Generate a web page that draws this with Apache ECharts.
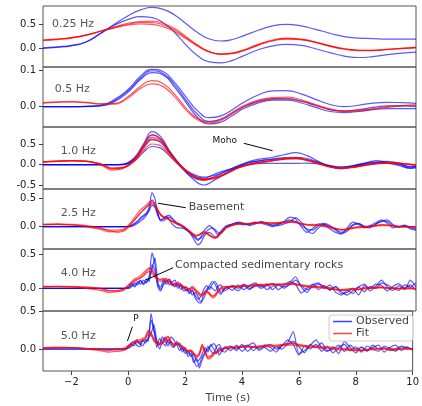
<!DOCTYPE html>
<html><head><meta charset="utf-8">
<script src="https://cdn.jsdelivr.net/npm/echarts@6/dist/echarts.min.js"></script>
<style>html,body{margin:0;padding:0;background:#fff}#c{width:422px;height:406px}</style>
</head><body><div id="c"></div>
<script>
// ---------- DATA ----------
const PANEL_LABELS = ['0.25 Hz', '0.5 Hz', '1.0 Hz', '2.5 Hz', '4.0 Hz', '5.0 Hz'];
const X_TICKS = [-2, 0, 2, 4, 6, 8, 10];
const Y_TICKS = [[0, 0.5], [0, 0.1], [-0.5, 0, 0.5], [0, 0.5], [0, 0.5], [0, 0.5]];

const T_LOW = [-3,-2.5,-2,-1.5,-1,-0.5,0,0.4,0.8,1.2,1.6,2,2.4,2.8,3.2,3.6,4,4.5,5,5.5,6,6.5,7,7.5,8,8.5,9,9.5,10];
const T_MID = [-3,-2.5,-2,-1.5,-1,-0.6,-0.2,0.2,0.5,0.8,1.1,1.4,1.8,2.2,2.6,3,3.4,3.8,4.2,4.6,5,5.4,5.8,6.2,6.6,7,7.4,7.8,8.2,8.6,9,9.4,9.8,10];
const T_HIGH = [-3,-2.5,-2,-1.5,-1,-0.7,-0.4,
  -0.2,-0.1,0,0.1,0.2,0.3,0.4,0.5,0.6,0.7,0.8,0.9,1,1.1,1.2,1.3,1.4,1.5,1.6,1.7,1.8,1.9,2,2.1,2.2,2.3,2.4,2.5,2.6,2.7,2.8,2.9,3,3.1,3.2,3.3,3.4,
  3.6,3.8,4,4.2,4.4,4.6,4.8,5,5.2,5.4,5.6,5.8,6,6.2,6.4,6.6,6.8,7,7.2,7.4,7.6,7.8,8,8.2,8.4,8.6,8.8,9,9.2,9.4,9.6,9.8,10];

// 0.25 Hz
const P1_OBS_A = [0.01,0.03,0.06,0.13,0.30,0.50,0.68,0.79,0.84,0.80,0.68,0.50,0.32,0.19,0.15,0.18,0.26,0.37,0.46,0.49,0.46,0.39,0.31,0.24,0.21,0.20,0.19,0.19,0.19];
const P1_OBS_B = [0.0,0.02,0.05,0.13,0.31,0.48,0.60,0.65,0.63,0.52,0.32,0.06,-0.16,-0.28,-0.30,-0.25,-0.15,-0.03,0.05,0.08,0.06,-0.01,-0.09,-0.16,-0.19,-0.17,-0.13,-0.10,-0.08];
const P1_FIT_A = [0.17,0.19,0.22,0.27,0.35,0.44,0.52,0.55,0.56,0.51,0.40,0.23,0.06,-0.07,-0.12,-0.10,-0.03,0.08,0.17,0.21,0.19,0.13,0.05,-0.01,-0.04,-0.04,-0.02,0.0,0.02];
const P1_FIT_B = [0.16,0.18,0.21,0.27,0.35,0.42,0.48,0.50,0.49,0.44,0.34,0.19,0.04,-0.08,-0.12,-0.11,-0.05,0.06,0.15,0.19,0.18,0.12,0.04,-0.02,-0.05,-0.05,-0.03,-0.01,0.01];
const P1_FIT_C = [0.17,0.19,0.22,0.27,0.35,0.43,0.50,0.53,0.53,0.48,0.37,0.21,0.05,-0.07,-0.12,-0.10,-0.04,0.07,0.16,0.20,0.18,0.12,0.05,-0.01,-0.04,-0.04,-0.02,0.0,0.02];

// 0.5 Hz
const P2_OBS_A = [0,0,0,0.001,0.004,0.02,0.05,0.083,0.102,0.095,0.065,0.025,-0.012,-0.03,-0.025,-0.008,0.012,0.032,0.043,0.044,0.035,0.02,0.006,0.0,0.004,0.01,0.012,0.011,0.009];
const P2_OBS_B = [0,0,0,0.001,0.003,0.017,0.046,0.078,0.098,0.09,0.058,0.016,-0.022,-0.04,-0.035,-0.018,0.0,0.015,0.022,0.022,0.015,0.004,-0.008,-0.012,-0.008,-0.002,0.002,0.002,0.0];
const P2_OBS_C = [0,0,0,0,0.002,0.014,0.042,0.074,0.093,0.086,0.052,0.01,-0.03,-0.047,-0.042,-0.024,-0.005,0.01,0.018,0.018,0.01,-0.002,-0.013,-0.016,-0.013,-0.008,-0.005,-0.005,-0.005];
const P2_FIT_A = [0.011,0.013,0.014,0.012,0.008,0.009,0.03,0.056,0.071,0.062,0.033,-0.005,-0.032,-0.041,-0.033,-0.015,0.003,0.018,0.025,0.026,0.019,0.006,-0.006,-0.011,-0.01,-0.005,0.0,0.003,0.005];
const P2_FIT_B = [0.01,0.012,0.013,0.011,0.007,0.007,0.026,0.05,0.062,0.054,0.026,-0.01,-0.036,-0.044,-0.037,-0.019,-0.001,0.013,0.02,0.021,0.015,0.003,-0.008,-0.013,-0.012,-0.007,-0.002,0.002,0.004];

// 1.0 Hz
const P3_OBS_A = [0,0,0,0,0,0,0.01,0.18,0.50,0.80,0.68,0.35,-0.02,-0.33,-0.49,-0.36,-0.2,-0.05,0.08,0.14,0.18,0.24,0.29,0.22,0.08,-0.04,-0.08,-0.03,0.02,0.06,0.08,0.04,-0.06,-0.04];
const P3_OBS_B = [0,0,0,0,0,0,0.01,0.14,0.40,0.62,0.55,0.30,-0.02,-0.25,-0.33,-0.22,-0.13,-0.04,0.05,0.1,0.13,0.15,0.15,0.12,0.05,-0.03,-0.06,-0.04,0.03,0.1,0.06,0.0,-0.08,-0.06];
const P3_OBS_C = [0,0,0,0,0,0,0,0.10,0.30,0.44,0.40,0.22,-0.04,-0.22,-0.30,-0.25,-0.15,-0.06,0.0,0.03,0.03,0.03,0.03,0.04,0.02,-0.02,-0.06,-0.02,0.04,0.06,0.04,-0.02,-0.09,-0.08];
const P3_OBS_D = [0,0,0,0,0,0,0.01,0.16,0.45,0.72,0.62,0.32,-0.05,-0.3,-0.38,-0.28,-0.16,-0.02,0.06,0.1,0.14,0.17,0.18,0.15,0.06,-0.05,-0.1,-0.05,0.0,0.04,0.05,0.02,-0.04,-0.03];
const P3_FIT_A = [0.07,0.09,0.10,0.09,0.03,-0.08,-0.06,0.15,0.48,0.72,0.62,0.32,-0.02,-0.25,-0.35,-0.32,-0.22,-0.08,0.0,0.05,0.09,0.14,0.17,0.12,0.04,-0.04,-0.08,-0.06,-0.01,0.03,0.05,0.04,0.01,0.0];
const P3_FIT_B = [0.06,0.08,0.09,0.08,0.0,-0.13,-0.09,0.10,0.40,0.60,0.54,0.28,-0.04,-0.27,-0.37,-0.33,-0.21,-0.08,0.01,0.06,0.1,0.13,0.14,0.1,0.02,-0.06,-0.09,-0.06,-0.02,0.02,0.04,0.03,0.0,-0.01];
const P3_FIT_C = [0.07,0.08,0.10,0.08,0.01,-0.10,-0.07,0.09,0.34,0.50,0.46,0.24,-0.05,-0.26,-0.34,-0.30,-0.20,-0.07,0.02,0.07,0.11,0.15,0.16,0.11,0.03,-0.05,-0.09,-0.07,-0.02,0.02,0.04,0.03,0.01,0.0];
const P3_FIT_D = [0.07,0.09,0.10,0.09,0.02,-0.09,-0.07,0.13,0.44,0.66,0.58,0.30,-0.03,-0.26,-0.36,-0.31,-0.21,-0.07,0.01,0.06,0.1,0.14,0.16,0.11,0.03,-0.05,-0.08,-0.06,-0.01,0.03,0.05,0.04,0.01,0.0];

// 2.5 Hz
const P4_OBS_A = [0,0,0,0,0,0,0,
  0,0,0.01,0.03,0.06,0.1,0.16,0.2,0.24,0.35,0.6,0.5,0.25,0.12,0.14,0.19,0.2,0.15,0.08,0.04,0.02,-0.02,-0.06,-0.1,-0.17,-0.26,-0.32,-0.28,-0.18,-0.12,-0.1,-0.14,-0.18,-0.15,-0.08,-0.02,0.02,
  0.04,0.06,0.03,0.05,0.08,0.06,0.03,0.0,0.04,0.09,0.17,0.14,0.0,-0.1,-0.03,0.05,0.04,-0.04,-0.1,-0.13,-0.02,0.08,0.04,-0.02,0.02,0.07,0.12,0.06,-0.02,0.0,0.03,-0.04,-0.06];
const P4_OBS_B = [0,0,0,0,0,0,0,
  0,0,0.0,0.02,0.05,0.09,0.14,0.18,0.22,0.3,0.47,0.4,0.22,0.1,0.1,0.15,0.17,0.14,0.1,0.06,0.03,0.0,-0.04,-0.08,-0.12,-0.18,-0.22,-0.2,-0.14,-0.08,-0.04,-0.02,-0.05,-0.1,-0.12,-0.07,0.0,
  0.05,0.07,0.05,0.04,0.06,0.07,0.05,0.03,0.05,0.08,0.12,0.09,0.03,-0.04,-0.06,0.02,0.06,0.02,-0.05,-0.1,-0.05,0.04,0.06,0.0,-0.02,0.04,0.1,0.09,0.02,0.0,0.02,0.0,-0.03];
const P4_OBS_C = [0,0,0,0,0,0,0,
  0,0,0,0.01,0.03,0.06,0.1,0.14,0.2,0.28,0.38,0.34,0.2,0.12,0.14,0.18,0.13,0.05,0.0,-0.02,-0.02,-0.03,-0.06,-0.1,-0.15,-0.2,-0.24,-0.18,-0.08,-0.02,0.02,-0.02,-0.08,-0.14,-0.1,-0.04,0.0,
  0.03,0.08,0.06,0.02,0.05,0.09,0.06,0.02,0.02,0.05,0.08,0.16,0.08,-0.06,-0.12,-0.02,0.04,0.0,-0.06,-0.12,-0.08,0.02,0.05,0.01,0.0,0.05,0.09,0.12,0.04,-0.01,0.01,-0.02,-0.05];
const P4_FIT_A = [0.04,0.04,0.03,0.01,-0.03,-0.06,-0.06,
  -0.04,-0.01,0.04,0.1,0.17,0.24,0.3,0.34,0.38,0.43,0.47,0.4,0.3,0.22,0.17,0.15,0.13,0.1,0.07,0.05,0.03,0.0,-0.04,-0.08,-0.13,-0.16,-0.15,-0.12,-0.1,-0.12,-0.16,-0.19,-0.2,-0.17,-0.11,-0.05,-0.01,
  0.03,0.05,0.05,0.06,0.07,0.08,0.07,0.07,0.07,0.08,0.09,0.08,0.06,0.04,0.03,0.03,0.02,0.0,-0.03,-0.05,-0.04,-0.02,-0.01,0.0,0.01,0.02,0.03,0.03,0.02,0.01,0.0,0.0,0.0];
const P4_FIT_B = [0.03,0.04,0.03,0.0,-0.05,-0.09,-0.08,
  -0.06,-0.03,0.02,0.07,0.13,0.19,0.25,0.3,0.34,0.38,0.4,0.36,0.28,0.2,0.16,0.14,0.12,0.1,0.08,0.06,0.04,0.01,-0.03,-0.07,-0.11,-0.14,-0.15,-0.13,-0.11,-0.12,-0.15,-0.18,-0.19,-0.16,-0.11,-0.06,-0.02,
  0.02,0.04,0.05,0.05,0.06,0.07,0.07,0.06,0.06,0.07,0.08,0.07,0.05,0.03,0.02,0.02,0.01,-0.01,-0.03,-0.05,-0.05,-0.03,-0.02,-0.01,0.0,0.01,0.02,0.02,0.01,0.0,0.0,-0.01,0.0];
const P4_FIT_C = [0.04,0.05,0.04,0.02,-0.02,-0.07,-0.1,
  -0.08,-0.05,0.0,0.06,0.12,0.18,0.24,0.29,0.35,0.4,0.43,0.38,0.29,0.21,0.18,0.16,0.13,0.09,0.06,0.04,0.02,0.0,-0.04,-0.09,-0.14,-0.17,-0.16,-0.12,-0.08,-0.1,-0.14,-0.18,-0.2,-0.18,-0.12,-0.06,-0.01,
  0.03,0.06,0.06,0.05,0.07,0.08,0.06,0.05,0.07,0.09,0.1,0.08,0.05,0.03,0.04,0.03,0.0,-0.02,-0.04,-0.06,-0.04,-0.02,0.0,0.0,0.01,0.02,0.04,0.03,0.02,0.0,-0.01,0.0,0.0];

// 4.0 Hz
const P5_OBS_A = [0,0,0,0,0,0,0,
  0,0.0,0.02,0.07,0.04,0.1,0.06,0.12,0.08,0.18,0.52,0.35,0.02,-0.04,0.08,0.15,0.05,0.09,0.12,0.03,0.06,0.0,0.02,-0.06,-0.02,-0.14,-0.2,-0.22,-0.08,-0.02,0.04,0.1,0.06,-0.04,-0.09,-0.02,0.02,
  -0.03,0.05,-0.02,0.04,0.08,0.02,0.06,-0.02,0.05,0.0,0.08,0.17,0.02,-0.06,0.05,0.08,0.0,0.05,-0.06,-0.1,-0.03,-0.08,0.02,0.06,-0.04,0.03,0.12,0.02,-0.03,0.04,-0.02,0.12,0.02];
const P5_OBS_B = [0,0,0,0,0,0,0,
  0,0.01,0.0,0.03,0.08,0.05,0.11,0.07,0.14,0.1,0.35,0.25,0.05,0.02,0.12,0.06,0.1,0.04,0.08,0.0,0.04,-0.04,-0.02,-0.08,-0.04,-0.1,-0.16,-0.12,-0.02,0.04,-0.02,0.06,0.1,0.02,-0.06,-0.03,0.03,
  0.02,-0.04,0.04,-0.02,0.05,0.0,0.04,0.07,-0.02,0.04,0.1,0.06,-0.07,0.0,0.06,-0.02,0.04,-0.03,0.02,-0.08,-0.06,0.0,-0.1,0.04,0.0,0.06,0.04,-0.04,0.03,0.07,0.0,0.05,-0.03];
const P5_OBS_C = [0,0,0,0,0,0,0,
  0,0,0.01,0.05,0.02,0.08,0.12,0.05,0.1,0.14,0.28,0.45,0.1,-0.02,0.05,0.1,0.14,0.06,0.02,0.07,-0.02,0.03,-0.04,0.0,-0.1,-0.06,-0.12,-0.2,-0.15,-0.05,0.02,0.0,-0.04,0.03,0.05,-0.04,-0.02,
  0.04,0.0,0.06,0.0,0.03,0.06,-0.02,0.03,0.06,0.02,0.05,0.12,0.04,-0.02,0.02,0.06,0.03,-0.02,0.03,-0.05,-0.1,-0.04,0.02,-0.05,0.03,0.0,0.08,0.05,0.0,-0.03,0.05,0.02,0.08];
const P5_FIT_A = [0.025,0.025,0.02,0.01,-0.01,-0.04,-0.03,
  -0.01,0.02,0.06,0.09,0.12,0.14,0.16,0.2,0.24,0.29,0.26,0.18,0.14,0.12,0.14,0.1,0.12,0.07,0.05,0.08,0.05,0.02,0.0,-0.02,0.02,-0.02,-0.06,-0.1,-0.08,-0.04,-0.08,-0.12,-0.1,-0.04,0.0,0.02,0.01,
  0.03,0.02,0.04,0.03,0.05,0.04,0.05,0.06,0.05,0.06,0.07,0.06,0.04,0.03,0.02,0.02,0.01,0.0,-0.02,-0.03,-0.02,-0.01,-0.02,0.0,0.0,0.01,0.01,0.0,0.0,-0.01,0.0,0.0,-0.01];
const P5_FIT_B = [0.02,0.03,0.02,0.0,-0.03,-0.06,-0.05,
  -0.03,0.0,0.04,0.07,0.1,0.13,0.15,0.18,0.22,0.25,0.22,0.16,0.12,0.1,0.12,0.09,0.1,0.05,0.04,0.06,0.03,0.0,-0.02,-0.04,0.0,-0.04,-0.08,-0.12,-0.1,-0.06,-0.09,-0.14,-0.12,-0.06,-0.02,0.0,0.0,
  0.02,0.02,0.03,0.03,0.04,0.04,0.04,0.05,0.05,0.05,0.06,0.05,0.04,0.02,0.01,0.01,0.0,-0.01,-0.02,-0.03,-0.03,-0.02,-0.02,-0.01,0.0,0.0,0.01,0.0,0.0,0.0,-0.01,-0.01,0.0];
const P5_FIT_C = [0.03,0.03,0.03,0.02,0.0,-0.03,-0.04,
  -0.02,0.01,0.05,0.1,0.14,0.16,0.19,0.23,0.27,0.3,0.28,0.2,0.15,0.13,0.15,0.11,0.13,0.08,0.06,0.09,0.06,0.03,0.01,-0.01,0.03,-0.01,-0.05,-0.09,-0.07,-0.03,-0.07,-0.11,-0.09,-0.03,0.01,0.03,0.02,
  0.04,0.03,0.05,0.04,0.06,0.05,0.06,0.07,0.06,0.07,0.08,0.07,0.05,0.04,0.03,0.03,0.02,0.01,-0.01,-0.02,-0.01,0.0,-0.01,0.01,0.01,0.02,0.02,0.01,0.01,0.0,0.01,0.01,0.0];

// 5.0 Hz
const P6_OBS_A = [0,0,0,0,0,0,0,
  0,0,0.04,0.08,0.1,0.05,0.03,0.1,0.12,0.1,0.47,0.25,0.1,0.06,0.16,0.1,0.04,0.16,0.12,0.06,0.08,0.0,-0.02,-0.06,-0.03,-0.14,-0.23,-0.2,-0.1,-0.04,0.0,0.04,0.07,0.02,-0.08,-0.02,0.02,
  0.04,-0.02,0.06,-0.03,0.04,0.0,0.05,0.02,-0.04,0.05,0.08,0.23,-0.06,-0.02,0.05,0.12,0.02,-0.03,0.03,-0.06,0.1,0.02,-0.05,0.03,-0.02,0.02,0.05,-0.04,0.02,0.05,-0.02,0.03,-0.02];
const P6_OBS_B = [0,0,0,0,0,0,0,
  0,0,0.02,0.06,0.04,0.1,0.06,0.12,0.08,0.14,0.38,0.25,0.02,0.14,0.08,0.16,0.08,0.1,0.03,0.06,-0.02,0.02,-0.06,-0.02,-0.1,-0.06,-0.16,-0.14,-0.06,0.02,-0.04,0.06,0.0,-0.06,0.02,-0.03,0.03,
  -0.02,0.05,-0.03,0.04,0.08,-0.02,0.03,0.06,0.0,0.04,0.12,0.06,-0.08,0.04,0.0,0.06,-0.03,0.04,-0.05,0.02,0.06,-0.02,0.03,-0.04,0.04,0.0,-0.03,0.04,0.01,-0.03,0.03,0.0,0.01];
const P6_OBS_C = [0,0,0,0,0,0,0,
  0,0,0.01,0.03,0.07,0.12,0.08,0.04,0.1,0.14,0.2,0.32,0.12,0.0,0.08,0.04,0.12,0.05,0.02,0.1,0.04,-0.04,0.02,-0.1,-0.06,-0.18,-0.12,-0.25,-0.14,-0.06,0.04,-0.02,-0.06,0.03,0.06,-0.02,-0.04,
  0.03,0.0,0.03,0.05,-0.02,0.04,0.02,-0.03,0.03,0.0,0.06,0.1,0.03,-0.05,0.06,0.02,0.08,-0.02,0.0,0.05,-0.03,0.05,0.0,0.02,-0.03,0.05,0.0,0.02,-0.02,0.0,0.04,0.02,0.0];
const P6_FIT_A = [0.01,0.015,0.02,0.01,-0.01,-0.02,-0.01,
  -0.01,0.0,0.03,0.06,0.08,0.1,0.1,0.12,0.14,0.23,0.2,0.12,0.08,0.06,0.1,0.12,0.16,0.08,0.06,0.07,0.05,0.03,0.0,-0.03,-0.02,-0.06,-0.1,-0.06,0.05,-0.03,-0.12,-0.1,-0.06,-0.04,-0.02,0.0,0.01,
  0.02,0.02,0.03,0.03,0.02,0.03,0.04,0.04,0.04,0.05,0.06,0.07,0.05,0.04,0.03,0.03,0.02,0.02,0.01,0.0,0.0,-0.01,-0.01,-0.02,-0.01,0.0,0.0,0.0,0.0,-0.01,0.0,0.0,0.0];
const P6_FIT_B = [0.015,0.02,0.02,0.0,-0.02,-0.04,-0.03,
  -0.02,-0.01,0.02,0.05,0.07,0.09,0.09,0.11,0.13,0.2,0.18,0.1,0.07,0.05,0.08,0.1,0.13,0.07,0.05,0.06,0.04,0.02,-0.01,-0.04,-0.03,-0.07,-0.12,-0.08,0.02,-0.05,-0.13,-0.12,-0.08,-0.05,-0.03,-0.01,0.0,
  0.01,0.02,0.02,0.03,0.02,0.02,0.03,0.03,0.03,0.04,0.05,0.05,0.04,0.03,0.02,0.02,0.01,0.01,0.0,-0.01,-0.01,-0.02,-0.02,-0.02,-0.01,-0.01,0.0,0.0,-0.01,-0.01,0.0,0.0,0.0];
const P6_FIT_C = [0.02,0.025,0.02,0.01,0.0,-0.01,0.0,
  0.01,0.02,0.05,0.07,0.1,0.12,0.12,0.14,0.16,0.25,0.22,0.14,0.1,0.08,0.12,0.14,0.17,0.1,0.07,0.08,0.06,0.04,0.01,-0.02,-0.01,-0.05,-0.09,-0.05,0.06,-0.02,-0.1,-0.09,-0.05,-0.03,-0.01,0.01,0.02,
  0.03,0.03,0.04,0.04,0.03,0.04,0.05,0.05,0.05,0.06,0.07,0.08,0.06,0.05,0.04,0.04,0.03,0.03,0.02,0.01,0.01,0.0,0.0,-0.01,0.0,0.01,0.01,0.01,0.01,0.0,0.01,0.01,0.0];

// ---------- CHART ----------
const panels = [
  { t: T_LOW,  obs: [P1_OBS_A, P1_OBS_B], fit: [P1_FIT_A, P1_FIT_B, P1_FIT_C] },
  { t: T_LOW,  obs: [P2_OBS_A, P2_OBS_B, P2_OBS_C], fit: [P2_FIT_A, P2_FIT_B] },
  { t: T_MID,  obs: [P3_OBS_A, P3_OBS_B, P3_OBS_C, P3_OBS_D], fit: [P3_FIT_A, P3_FIT_B, P3_FIT_C, P3_FIT_D] },
  { t: T_HIGH, obs: [P4_OBS_A, P4_OBS_B, P4_OBS_C], fit: [P4_FIT_A, P4_FIT_B, P4_FIT_C] },
  { t: T_HIGH, obs: [P5_OBS_A, P5_OBS_B, P5_OBS_C], fit: [P5_FIT_A, P5_FIT_B, P5_FIT_C] },
  { t: T_HIGH, obs: [P6_OBS_A, P6_OBS_B, P6_OBS_C], fit: [P6_FIT_A, P6_FIT_B, P6_FIT_C] }
];
const layout = [
  { top: 6, height: 61, min: -0.385, max: 0.870, smooth: 0.5 },
  { top: 67, height: 60, min: -0.0553, max: 0.1082, smooth: 0.5 },
  { top: 127, height: 62, min: -0.587, max: 0.911, smooth: 0.4 },
  { top: 189, height: 60, min: -0.393, max: 0.664, smooth: 0.25 },
  { top: 249, height: 62, min: -0.334, max: 0.578, smooth: 0.2 },
  { top: 311, height: 60, min: -0.289, max: 0.5, smooth: 0.2 }
];
panels.forEach((p, i) => {
  [...p.obs, ...p.fit].forEach((v, k) => {
    if (v.length !== p.t.length) throw new Error('panel ' + i + ' trace ' + k + ' length ' + v.length + ' vs ' + p.t.length);
  });
});
const FONT = '"DejaVu Sans", sans-serif';
const fmt = v => (v < 0 ? '-' : '') + Math.abs(v).toFixed(1);
const fmtX = v => (v < 0 ? '\u2212' : '') + Math.abs(v);
const last = panels.length - 1;

const grid = [], xAxis = [], yAxis = [], series = [];
panels.forEach((p, i) => {
  const L = layout[i];
  grid.push({ left: 43, right: 6, top: L.top, height: L.height, show: true, borderColor: '#555', borderWidth: 1, backgroundColor: 'transparent' });
  xAxis.push({
    type: 'value', gridIndex: i, min: -3, max: 10,
    axisLine: { show: false, onZero: false }, splitLine: { show: false },
    axisTick: { show: i === last, length: 4, lineStyle: { color: '#444' }, customValues: X_TICKS },
    axisLabel: { show: i === last, customValues: X_TICKS, formatter: fmtX, fontSize: 10, color: '#222', fontFamily: FONT, margin: 6 },
    name: i === last ? 'Time (s)' : '', nameLocation: 'middle', nameGap: 22,
    nameTextStyle: { fontSize: 11, color: '#444', fontFamily: FONT }
  });
  yAxis.push({
    type: 'value', gridIndex: i, min: L.min, max: L.max,
    axisLine: { show: false, onZero: false }, splitLine: { show: false },
    axisTick: { show: true, length: 4, lineStyle: { color: '#444' }, customValues: Y_TICKS[i] },
    axisLabel: { customValues: Y_TICKS[i], formatter: fmt, fontSize: 10, color: '#222', fontFamily: FONT, margin: 7 }
  });
  const mk = (vals, name, color) => ({
    type: 'line', name, xAxisIndex: i, yAxisIndex: i, symbol: 'none', smooth: L.smooth,
    data: p.t.map((t, j) => [t, vals[j]]),
    lineStyle: { color, width: 1.2, opacity: 0.65 }, itemStyle: { color }, silent: true, z: name === 'Fit' ? 3 : 2
  });
  p.obs.forEach(v => series.push(mk(v, 'Observed', '#0000ff')));
  p.fit.forEach(v => series.push(mk(v, 'Fit', '#ff0000')));
});

const chart = echarts.init(document.getElementById('c'), null, { renderer: 'canvas' });
chart.setOption({
  animation: false,
  backgroundColor: '#fff',
  grid, xAxis, yAxis, series,
  legend: {
    data: [{ name: 'Observed', icon: 'rect' }, { name: 'Fit', icon: 'rect' }],
    orient: 'vertical', right: 9, top: 315,
    itemWidth: 19, itemHeight: 1.5, itemGap: 1, padding: [1, 4, 2, 4],
    itemStyle: { opacity: 0.75 },
    borderColor: '#ccc', borderWidth: 1, borderRadius: 3, backgroundColor: 'rgba(255,255,255,0.85)',
    textStyle: { fontSize: 11, color: '#444', fontFamily: FONT, padding: [0, 0, 0, -1] }
  }
});

// annotations placed in data coordinates
const px = (g, t, v) => chart.convertToPixel({ gridIndex: g }, [t, v]);
const graphics = [];
const labelPos = [[-2.69, 0.5], [-2.59, 0.048], [-2.38, 0.338], [-2.38, 0.236], [-2.38, 0.22], [-2.38, 0.171]];
PANEL_LABELS.forEach((txt, i) => {
  const q = px(i, labelPos[i][0], labelPos[i][1]);
  graphics.push({ type: 'text', x: q[0], y: q[1], style: { text: txt, font: '11px ' + FONT, fill: '#555', textAlign: 'left', textVerticalAlign: 'middle' } });
});
const ann = [
  { g: 2, text: 'Moho', tp: [2.91, 0.58], size: 9, color: '#111', align: 'left', line: [[4.0, 0.517], [5.0, 0.338]] },
  { g: 3, text: 'Basement', tp: [2.08, 0.342], size: 11, color: '#444', align: 'left', line: [[1.01, 0.413], [1.97, 0.335]] },
  { g: 4, text: 'Compacted sedimentary rocks', tp: [1.6, 0.343], size: 11, color: '#444', align: 'left', line: [[0.585, 0.122], [1.537, 0.303]] },
  { g: 5, text: 'P', tp: [0.27, 0.40], size: 9, color: '#111', align: 'center', line: [[-0.03, 0.105], [0.143, 0.293]] }
];
ann.forEach(a => {
  const q = px(a.g, a.tp[0], a.tp[1]);
  graphics.push({ type: 'text', x: q[0], y: q[1], z: 10, style: { text: a.text, font: a.size + 'px ' + FONT, fill: a.color, textAlign: a.align, textVerticalAlign: 'middle' } });
  const p1 = px(a.g, a.line[0][0], a.line[0][1]);
  const p2 = px(a.g, a.line[1][0], a.line[1][1]);
  graphics.push({ type: 'line', z: 10, shape: { x1: p1[0], y1: p1[1], x2: p2[0], y2: p2[1] }, style: { stroke: '#000', lineWidth: 1 } });
});
chart.setOption({ graphic: graphics });
</script></body></html>
